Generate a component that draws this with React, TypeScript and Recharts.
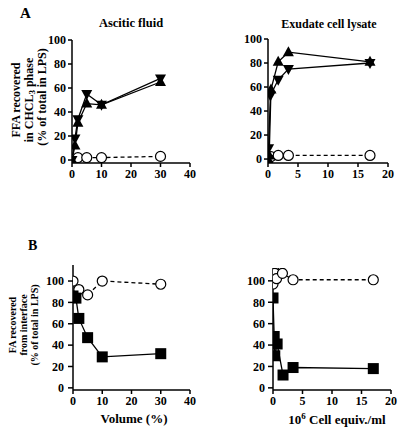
import React from 'react';
import { LineChart, Line, XAxis, YAxis } from 'recharts';

// Panel A, ascitic fluid (x = volume %)
const ascTriX = [0, 1, 2, 5, 10, 30];
const ascUp = [0, 12, 31, 47, 46, 65];
const ascDown = [0, 18, 34, 55, 46, 68];
const ascCircX = [0, 2, 5, 10, 30];
const ascCirc = [0, 2, 2, 2, 3];

// Panel A, exudate cell lysate (x = 10^6 cell equiv./ml)
const exuUpX = [0, 0.2, 0.5, 1.7, 3.4, 17];
const exuUp = [0, 3, 58, 81, 89, 81];
const exuDownX = [0, 0.1, 0.4, 1.7, 3.4, 17];
const exuDown = [0, 9, 53, 66, 75, 80];
const exuCircX = [0, 0.5, 1.7, 3.4, 17];
const exuCirc = [1, 2, 3, 3, 3];

// Panel B, ascitic fluid
const ascSqX = [0, 1, 2, 5, 10, 30];
const ascSq = [86, 84, 65, 47, 29, 32];
const ascBCircX = [0, 2, 5, 10, 30];
const ascBCirc = [100, 92, 87, 100, 97];

// Panel B, exudate cell lysate
const exuSqX = [0, 0.2, 0.3, 0.7, 1.7, 3.4, 17];
const exuSq = [84, 48, 30, 41, 12, 19, 18];
const exuBCircX = [0, 0.1, 0.3, 0.6, 1.6, 3.4, 17];
const exuBCirc = [97, 110, 107, 102, 107, 101, 101];

const yTicks = [0, 20, 40, 60, 80, 100];
const volTicks = [0, 10, 20, 30, 40];
const cellTicks = [0, 5, 10, 15, 20];

const pairs = (xs: number[], ys: number[]) => xs.map((x, i) => ({ x, y: ys[i] }));

const FONT = 'Liberation Serif, Times New Roman, serif';
const tickStyle = { fontSize: 12, fontWeight: 'bold', fill: '#000', fontFamily: FONT };
const axisStyle = { stroke: '#000', strokeWidth: 1.5 };

const makeDot = (kind: string) => (props: any) => {
  const { cx, cy, index } = props;
  const key = `${kind}-${index}`;
  if (cx == null || cy == null) return <g key={key} />;
  if (kind === 'up')
    return <path key={key} d={`M${cx},${cy - 6}L${cx + 5.5},${cy + 4}L${cx - 5.5},${cy + 4}Z`} fill="#000" />;
  if (kind === 'down')
    return <path key={key} d={`M${cx},${cy + 6}L${cx + 5.5},${cy - 4}L${cx - 5.5},${cy - 4}Z`} fill="#000" />;
  if (kind === 'square')
    return <rect key={key} x={cx - 5.5} y={cy - 5.5} width={11} height={11} fill="#000" />;
  return <circle key={key} cx={cx} cy={cy} r={5} fill="#fff" stroke="#000" strokeWidth={1.2} />;
};

type Series = { data: { x: number; y: number }[]; kind: string; dashed?: boolean };

const Panel = ({ left, top, width, height, margin, yWidth, xMax, xTicks, yDomain, tickSize, tickMargin, series }: any) => (
  <div style={{ position: 'absolute', left, top }}>
    <LineChart width={width} height={height} margin={margin}>
      <XAxis
        type="number"
        dataKey="x"
        domain={[0, xMax]}
        ticks={xTicks}
        allowDataOverflow
        height={30}
        tick={tickStyle}
        axisLine={axisStyle}
        tickLine={axisStyle}
        tickSize={4}
        tickMargin={2}
      />
      <YAxis
        type="number"
        dataKey="y"
        domain={yDomain}
        ticks={yTicks}
        allowDataOverflow
        width={yWidth}
        tick={tickStyle}
        axisLine={axisStyle}
        tickLine={axisStyle}
        tickSize={tickSize}
        tickMargin={tickMargin}
      />
      {series.map((s: Series, i: number) => (
        <Line
          key={i}
          data={s.data}
          dataKey="y"
          type="linear"
          stroke="#000"
          strokeWidth={1.3}
          strokeDasharray={s.dashed ? '4 3' : undefined}
          dot={makeDot(s.kind)}
          activeDot={false}
          isAnimationActive={false}
        />
      ))}
    </LineChart>
  </div>
);

export default function App() {
  return (
    <div style={{ position: 'absolute', left: 0, top: 0, width: 400, height: 432, background: '#fff' }}>
      <Panel
        left={0} top={0} width={200} height={200}
        margin={{ top: 40, right: 10, left: 0, bottom: 7 }}
        yWidth={72} xMax={40} xTicks={volTicks} yDomain={[-2.5, 100]}
        tickSize={4} tickMargin={2}
        series={[
          { data: pairs(ascCircX, ascCirc), kind: 'circle', dashed: true },
          { data: pairs(ascTriX, ascUp), kind: 'up' },
          { data: pairs(ascTriX, ascDown), kind: 'down' },
        ]}
      />
      <Panel
        left={200} top={0} width={200} height={200}
        margin={{ top: 39, right: 12, left: 0, bottom: 7 }}
        yWidth={68} xMax={20} xTicks={cellTicks} yDomain={[-3.3, 100]}
        tickSize={4} tickMargin={2}
        series={[
          { data: pairs(exuCircX, exuCirc), kind: 'circle', dashed: true },
          { data: pairs(exuUpX, exuUp), kind: 'up' },
          { data: pairs(exuDownX, exuDown), kind: 'down' },
        ]}
      />
      <Panel
        left={0} top={200} width={200} height={232}
        margin={{ top: 65, right: 10, left: 0, bottom: 12 }}
        yWidth={73} xMax={40} xTicks={volTicks} yDomain={[-2, 115]}
        tickSize={5} tickMargin={4}
        series={[
          { data: pairs(ascBCircX, ascBCirc), kind: 'circle', dashed: true },
          { data: pairs(ascSqX, ascSq), kind: 'square' },
        ]}
      />
      <Panel
        left={200} top={200} width={200} height={232}
        margin={{ top: 68, right: 9, left: 0, bottom: 12 }}
        yWidth={73} xMax={20} xTicks={cellTicks} yDomain={[-2, 112]}
        tickSize={5} tickMargin={3}
        series={[
          { data: pairs(exuBCircX, exuBCirc), kind: 'circle', dashed: true },
          { data: pairs(exuSqX, exuSq), kind: 'square' },
        ]}
      />
      <svg width={400} height={432} style={{ position: 'absolute', left: 0, top: 0, pointerEvents: 'none' }}
        fontFamily={FONT} fontWeight="bold" fill="#000">
        <text x={20} y={18} fontSize={15}>A</text>
        <text x={28} y={250} fontSize={14}>B</text>
        <text x={131} y={27} fontSize={12.5} textAnchor="middle">Ascitic fluid</text>
        <text x={329} y={28} fontSize={12} textAnchor="middle">Exudate cell lysate</text>
        <g fontSize={12} textAnchor="middle">
          <text transform="translate(20,100) rotate(-90)">FFA recovered</text>
          <text transform="translate(33,100) rotate(-90)">
            in CHCL<tspan fontSize={9} dy={2}>3</tspan><tspan dy={-2}> phase</tspan>
          </text>
          <text transform="translate(46,97) rotate(-90)">(% of total in LPS)</text>
        </g>
        <g fontSize={10} textAnchor="middle">
          <text transform="translate(16,325) rotate(-90)">FA recovered</text>
          <text transform="translate(27,325) rotate(-90)">from interface</text>
          <text transform="translate(38,325) rotate(-90)">(% of total in LPS)</text>
        </g>
        <text x={134} y={423} fontSize={13} textAnchor="middle">Volume (%)</text>
        <text x={337} y={424} fontSize={13} textAnchor="middle">
          10<tspan fontSize={9} dy={-5}>6</tspan><tspan dy={5}> Cell equiv./ml</tspan>
        </text>
      </svg>
    </div>
  );
}
